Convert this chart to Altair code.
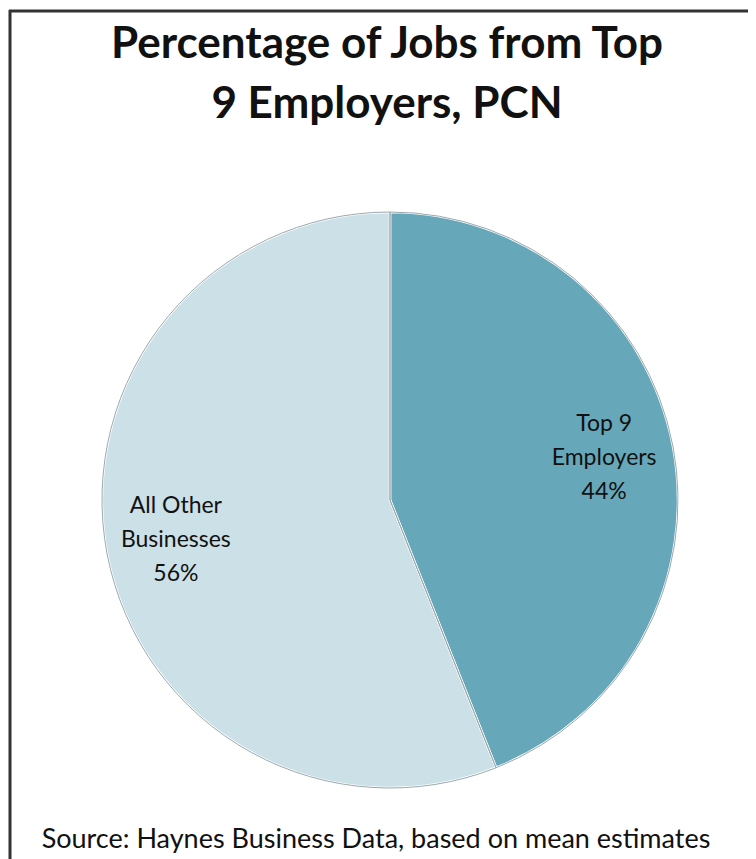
import altair as alt
import pandas as pd

categories = ["Top 9 Employers", "All Other Businesses"]
values = [44, 56]
label_text = ["Top 9\nEmployers\n44%", "All Other\nBusinesses\n56%"]
colors = ["#67A7BA", "#CCE0E7"]
title_text = "Percentage of Jobs from Top\n9 Employers, PCN"
source_text = "Source: Haynes Business Data, based on mean estimates"

df = pd.DataFrame({
    "category": categories,
    "value": values,
    "label": label_text,
    "order": list(range(len(categories))),
})

CX, CY, R = 382, 352, 288

base = alt.Chart(df).encode(
    theta=alt.Theta("value:Q", stack=True),
    order=alt.Order("order:Q"),
)

pie = base.mark_arc(radius=R, stroke="white", strokeWidth=2.5).encode(
    x=alt.value(CX), y=alt.value(CY),
    color=alt.Color("category:N", scale=alt.Scale(domain=categories, range=colors), legend=None),
)

outline = base.mark_arc(radius=R, fillOpacity=0, stroke="#9aa9ae", strokeWidth=1).encode(
    x=alt.value(CX), y=alt.value(CY),
)

labels = base.mark_text(radius=218, dy=-35, fontSize=23, font="Lato", lineBreak="\n",
                        lineHeight=34, color="#111111").encode(
    x=alt.value(CX), y=alt.value(CY), text="label:N",
)

title = alt.Chart(pd.DataFrame({"t": [title_text]})).mark_text(
    fontSize=44, font="Lato", fontWeight="bold", color="#111111",
    baseline="alphabetic", lineBreak="\n", lineHeight=60,
).encode(x=alt.value(379), y=alt.value(-90), text="t:N")

src = alt.Chart(pd.DataFrame({"t": [source_text]})).mark_text(
    fontSize=27, font="Lato", color="#111111", baseline="alphabetic"
).encode(x=alt.value(368), y=alt.value(700), text="t:N")

frame_top = alt.Chart(pd.DataFrame({"a": [0]})).mark_rule(color="#333333", strokeWidth=3).encode(
    x=alt.value(1), x2=alt.value(760), y=alt.value(-137))
frame_left = alt.Chart(pd.DataFrame({"a": [0]})).mark_rule(color="#333333", strokeWidth=3).encode(
    x=alt.value(2), y=alt.value(-138), y2=alt.value(720))

chart = alt.layer(pie, outline, labels, title, src, frame_top, frame_left).properties(
    width=740, height=711,
    autosize=alt.AutoSizeParams(type="none"),
    padding={"left": 0, "top": 140, "right": 0, "bottom": 0},
).configure_view(stroke=None)

chart.save("out.html", embed_options={"renderer": "svg", "actions": False})
